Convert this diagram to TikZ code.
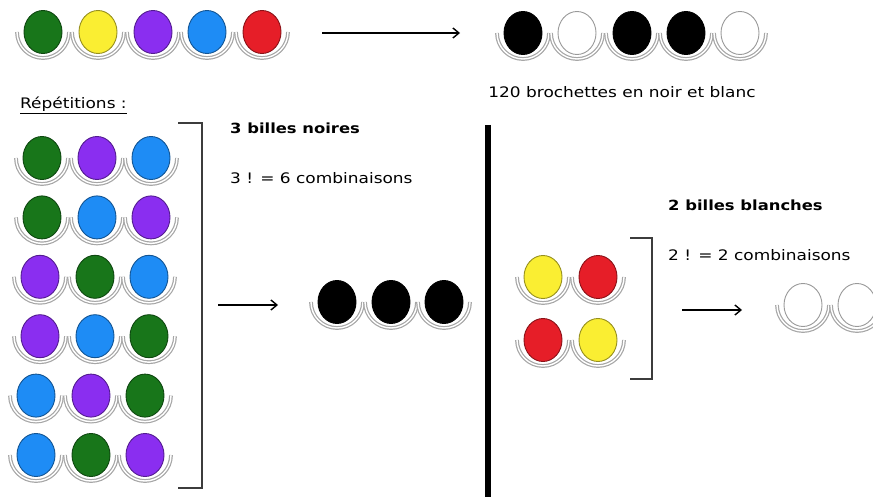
\documentclass[tikz,border=0pt]{standalone}
\usepackage{fontspec}
\setmainfont[FakeStretch=1.17]{DejaVu Sans}
\usetikzlibrary{arrows.meta}
\definecolor{bgreen}{RGB}{24,118,26}
\definecolor{byellow}{RGB}{250,238,50}
\definecolor{bpurple}{RGB}{138,46,240}
\definecolor{bblue}{RGB}{30,140,245}
\definecolor{bred}{RGB}{230,30,40}
\definecolor{bracketgray}{RGB}{60,60,60}
\tikzset{
  cup/.style={draw=gray!70, line width=1.2pt, double=white, double distance=1.4pt},
  ball/.style={line width=0.9pt},
  label/.style={anchor=west, inner sep=0pt, font=\fontsize{14.5}{17}\selectfont},
  title/.style={label, font=\fontsize{14}{17}\selectfont\bfseries},
  bracket/.style={draw=bracketgray, line width=2.4pt},
  flow/.style={line width=1.4pt, -{Straight Barb[length=6pt,width=10pt]}},
}
% one bead sitting in its cup: x, y, fill colour, outline colour
\newcommand\bead[4]{%
  \draw[cup] (#1-26,#2) arc[start angle=180, end angle=0, radius=26];
  \draw[ball, fill=#3, draw=#4] (#1,#2) ellipse[x radius=19, y radius=21.5];
}
\newcommand\cbead[3]{\bead{#1}{#2}{#3}{#3!60!black}}
\begin{document}
\begin{tikzpicture}[x=1pt, y=-1pt]
\useasboundingbox (0,0) rectangle (873,497);
\clip (0,0) rectangle (873,497);

% coloured skewer and its black and white version
\cbead{43}{32}{bgreen}
\cbead{98}{32}{byellow}
\cbead{153}{32}{bpurple}
\cbead{207}{32}{bblue}
\cbead{262}{32}{bred}
\coordinate (topA) at (322,33);
\coordinate (topB) at (460,33);
\draw[flow] (topA) -- (topB);
\bead{523}{33}{black}{black}
\bead{577}{33}{white}{gray!80}
\bead{632}{33}{black}{black}
\bead{686}{33}{black}{black}
\bead{740}{33}{white}{gray!80}
\node[label, anchor=center] (count) at (622,92) {120 brochettes en noir et blanc};

% repetitions of the three black beads
\node[label] (rep) at (20,105) {\underline{Répétitions :}};
\foreach \r/\dx/\a/\b/\c in {0/2/bgreen/bpurple/bblue,
                             1/2/bgreen/bblue/bpurple,
                             2/0/bpurple/bgreen/bblue,
                             3/0/bpurple/bblue/bgreen,
                             4/-4/bblue/bpurple/bgreen,
                             5/-4/bblue/bgreen/bpurple}{
  \pgfmathsetmacro\yy{158+59.4*\r}
  \cbead{40+\dx}{\yy}{\a}
  \cbead{95+\dx}{\yy}{\b}
  \cbead{149+\dx}{\yy}{\c}
}
\draw[bracket] (178,123) -- (202,123) -- (202,488) -- (178,488);
\node[title] (noir) at (230,128) {3 billes noires};
\node[label] (fact3) at (230,178) {3 ! = 6 combinaisons};
\coordinate (midA) at (218,305);
\coordinate (midB) at (278,305);
\draw[flow] (midA) -- (midB);
\bead{337}{302}{black}{black}
\bead{391}{302}{black}{black}
\bead{444}{302}{black}{black}

% separator
\draw[line width=5.5pt] (488,125) -- (488,497);

% repetitions of the two white beads
\node[title] (blanc) at (668,205) {2 billes blanches};
\node[label] (fact2) at (668,255) {2 ! = 2 combinaisons};
\cbead{543}{277}{byellow}
\cbead{598}{277}{bred}
\cbead{543}{340}{bred}
\cbead{598}{340}{byellow}
\draw[bracket] (630,238) -- (652,238) -- (652,379) -- (630,379);
\coordinate (rgtA) at (682,310);
\coordinate (rgtB) at (742,310);
\draw[flow] (rgtA) -- (rgtB);
\bead{803}{305}{white}{gray!80}
\bead{857}{305}{white}{gray!80}
\end{tikzpicture}
\end{document}
